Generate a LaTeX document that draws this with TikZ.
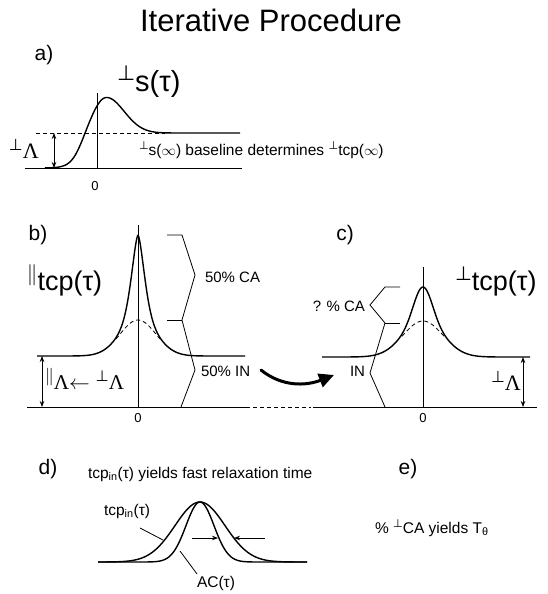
\documentclass[tikz,border=0pt]{standalone}
\usepackage{graphicx}
\usepackage{fontspec}
\setmainfont{Liberation Sans}
\newfontfamily\djv{DejaVu Sans}
\newfontfamily\lserif{Liberation Serif}
\usetikzlibrary{arrows.meta}
\newcommand{\fs}[1]{\fontsize{#1}{#1}\selectfont}
\newcommand{\pu}{\raisebox{0.36em}{\scalebox{0.72}{\djv ⊥}}}
\newcommand{\pl}{\raisebox{0.36em}{\scalebox{0.85}{$\|$}}}
\newcommand{\Lam}{{\lserif Λ}}
\begin{document}
\begin{tikzpicture}[x=1pt,y=-1pt,
  curve/.style={line width=1.4pt,line join=round},
  thinl/.style={line width=0.8pt},
  dsh/.style={line width=0.8pt,dash pattern=on 4pt off 3pt},
  dblarrow/.style={line width=0.8pt,{Stealth[length=6pt,width=4.5pt]}-{Stealth[length=6pt,width=4.5pt]}},
  onearrow/.style={line width=0.8pt,-{Stealth[length=6pt,width=4.5pt]}},
  txt/.style={inner sep=0pt,outer sep=0pt},
  declare function={
    asig(\t)=1/(1+exp(-(\t-81)/6));
    aw(\t)=(\t<106)*14+(\t>=106)*18;
    abump(\t)=36*exp(-0.5*((\t-106)/aw(\t))*((\t-106)/aw(\t)));
    acurve(\t)=168-35*asig(\t)-abump(\t);
    bbroad(\t)=36*exp(-\t*\t/648);
    bnar(\t)=85*exp(-pow(abs(\t)/9+0.0001,1.6));
    cbroad(\t)=36*exp(-\t*\t/800);
    cnar(\t)=34*exp(-\t*\t/162);
    dc(\t,\s)=562-60*exp(-0.5*((\t-200)/\s)*((\t-200)/\s));
  }]
\useasboundingbox (0,0) rectangle (548,594);
\fill[white] (0,0) rectangle (548,594);

% title
\node[txt,anchor=base] (title) at (271,32) {\fs{31}Iterative Procedure};

% ---------- panel a
\node[txt] (la) at (44,55) {\fs{21}a)};
\node[txt,anchor=base west] (sa) at (117,91) {\fs{29}\pu s(τ)};
\draw[thinl] (25,168) -- (242,168);
\draw[thinl] (97,93) -- (97,168);
\draw[dsh] (36,133) -- (165,133);
\draw[curve] plot[domain=45:240,samples=160] (\x,{acurve(\x)});
\coordinate (aA1) at (54,133);
\coordinate (aA2) at (54,168);
\draw[dblarrow] (aA1) -- (aA2);
\node[txt,anchor=base west] (aL) at (9,158) {\fs{22}\pu\Lam};
\node[txt] (a0) at (95,186) {\fs{13}0};
\node[txt,anchor=base west] (atext) at (139,155) {\fs{15.5}\pu s($\infty$) baseline determines \pu tcp($\infty$)};

% ---------- panel b
\node[txt] (lb) at (38,235) {\fs{21}b)};
\node[txt,anchor=base west] (btcp) at (27,290) {\fs{27}\pl tcp(τ)};
\draw[thinl] (27,407) -- (250,407);
\draw[dsh] (253,407) -- (311,407);
\draw[thinl] (138,225) -- (138,407);
\draw[curve] plot[domain=-101:107,samples=220] ({138+\x},{356-bbroad(\x)-bnar(\x)});
\draw[dsh] plot[domain=-22:22,samples=40] ({138+\x},{356-bbroad(\x)});
\coordinate (bA1) at (42,356);
\coordinate (bA2) at (42,407);
\draw[dblarrow] (bA1) -- (bA2);
\node[txt,anchor=base west] (bL) at (45,389) {\fs{21}\pl\Lam$\leftarrow$ \pu\Lam};
\draw[thinl] (167,235) -- (182,235) -- (195,275) -- (182,320) -- (195,370) -- (181,407);
\draw[thinl] (167,320) -- (182,320);
\node[txt,anchor=base west] (bCA) at (205,282) {\fs{15}50\% CA};
\node[txt,anchor=base west] (bIN) at (201,376) {\fs{15}50\% IN};
\node[txt] (b0) at (138,418) {\fs{13}0};

% curved arrow b -> c
\coordinate (arrS) at (261,370);
\coordinate (arrE) at (334,375);
\draw[line width=3pt,line cap=round,-{Triangle[length=15pt,width=14pt]}] (arrS) .. controls (282,387) and (306,386) .. (arrE);

% ---------- panel c
\node[txt] (lc) at (345,235) {\fs{21}c)};
\node[txt,anchor=base west] (ctcp) at (455,290) {\fs{27}\pu tcp(τ)};
\draw[thinl] (313,407) -- (537,407);
\draw[thinl] (423,267) -- (423,407);
\draw[curve] plot[domain=-101:107,samples=220] ({423+\x},{357-cbroad(\x)-cnar(\x)});
\draw[dsh] plot[domain=-21:21,samples=40] ({423+\x},{357-cbroad(\x)});
\coordinate (cA1) at (523,357);
\coordinate (cA2) at (523,407);
\draw[dblarrow] (cA1) -- (cA2);
\node[txt,anchor=base west] (cL) at (491,390) {\fs{22}\pu\Lam};
\draw[thinl] (400,287) -- (385,287) -- (370,305) -- (385,323) -- (370,373) -- (385,407);
\draw[thinl] (400,323) -- (385,323);
\node[txt,anchor=base east] (cCA) at (365,311) {\fs{15}? \% CA};
\node[txt,anchor=base east] (cIN) at (365,376) {\fs{15}IN};
\node[txt] (c0) at (423,418) {\fs{13}0};

% ---------- panel d
\node[txt] (ld) at (48,469) {\fs{21}d)};
\node[txt,anchor=base west] (dtext) at (88,478) {\fs{15.5}tcp\textsubscript{in}(τ) yields fast relaxation time};
\draw[curve] plot[domain=98:307,samples=160] (\x,{dc(\x,25)});
\draw[curve] plot[domain=98:307,samples=160] (\x,{dc(\x,14)});
\node[txt,anchor=base west] (dtcp) at (104,515) {\fs{15.5}tcp\textsubscript{in}(τ)};
\coordinate (dt1) at (140,528);
\coordinate (dt2) at (163,540);
\draw[thinl] (dt1) -- (dt2);
\node[txt,anchor=base west] (dAC) at (197,587) {\fs{15.5}AC(τ)};
\coordinate (da1) at (180,551);
\coordinate (da2) at (197,574);
\draw[thinl] (da1) -- (da2);
\coordinate (dl0) at (192,538);
\coordinate (dl1) at (218,538);
\draw[onearrow] (dl0) -- (dl1);
\coordinate (dr0) at (265,538);
\coordinate (dr1) at (234,538);
\draw[onearrow] (dr0) -- (dr1);

% ---------- panel e
\node[txt] (le) at (408,469) {\fs{21}e)};
\node[txt,anchor=base west] (etext) at (375,533) {\fs{15.5}\% \pu CA yields T\textsubscript{θ}};
\end{tikzpicture}
\end{document}
